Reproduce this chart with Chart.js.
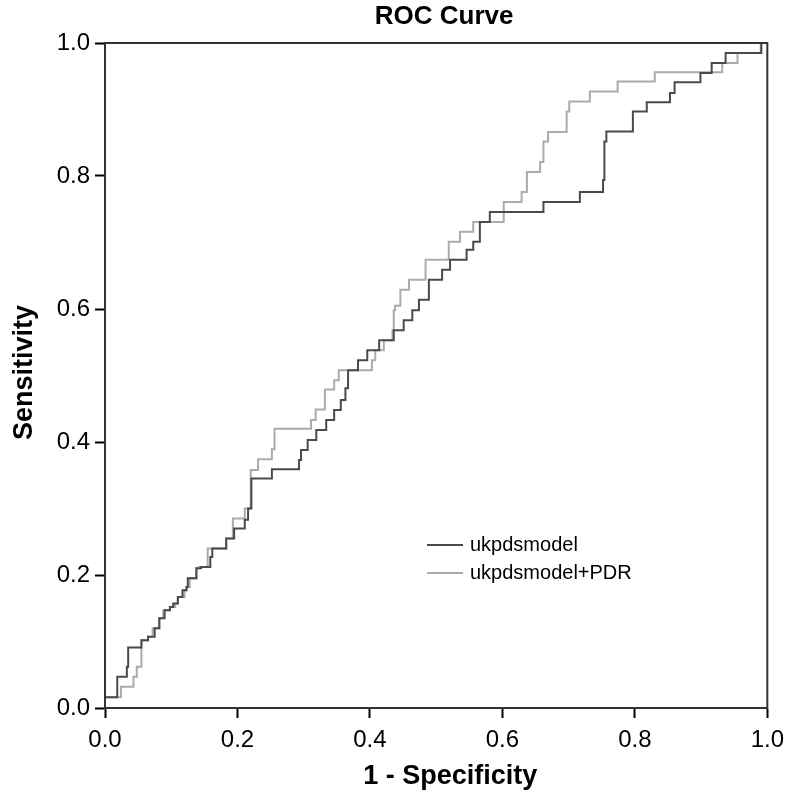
<!DOCTYPE html>
<html>
<head>
<meta charset="utf-8">
<script src="https://cdn.jsdelivr.net/npm/chart.js@4"></script>
<style>
  html, body { margin: 0; padding: 0; background: #fff; }
  #wrap { width: 792px; height: 800px; }
</style>
</head>
<body>
<div id="wrap"><canvas id="grafico" width="792" height="800"></canvas></div>
<script>
const tituloGrafico = "ROC Curve";
const tituloX = "1 - Specificity";
const tituloY = "Sensitivity";
const marcas = [0, 0.2, 0.4, 0.6, 0.8, 1.0];
const rotulosMarcas = ["0.0", "0.2", "0.4", "0.6", "0.8", "1.0"];

// ukpdsmodel
const escuroFpr = [0, 0.0185, 0.033, 0.035, 0.055, 0.065, 0.075, 0.082, 0.09, 0.098, 0.103, 0.110, 0.117, 0.123, 0.125, 0.138, 0.145, 0.159, 0.162, 0.183, 0.195, 0.211, 0.216, 0.221, 0.252, 0.293, 0.296, 0.306, 0.319, 0.334, 0.346, 0.356, 0.363, 0.367, 0.382, 0.396, 0.414, 0.436, 0.451, 0.464, 0.474, 0.489, 0.509, 0.521, 0.546, 0.556, 0.566, 0.581, 0.662, 0.717, 0.752, 0.754, 0.757, 0.797, 0.818, 0.853, 0.860, 0.899, 0.916, 0.937, 0.991, 1.0];
const escuroTpr = [0, 0.016, 0.047, 0.062, 0.091, 0.102, 0.107, 0.120, 0.135, 0.147, 0.152, 0.157, 0.167, 0.177, 0.182, 0.195, 0.210, 0.212, 0.227, 0.240, 0.255, 0.270, 0.283, 0.300, 0.345, 0.359, 0.373, 0.388, 0.403, 0.418, 0.433, 0.448, 0.463, 0.481, 0.508, 0.523, 0.538, 0.553, 0.568, 0.583, 0.598, 0.614, 0.644, 0.659, 0.674, 0.689, 0.701, 0.731, 0.746, 0.761, 0.776, 0.794, 0.852, 0.867, 0.897, 0.911, 0.925, 0.941, 0.955, 0.970, 0.985, 1.0];

// ukpdsmodel+PDR
const claroFpr = [0, 0.024, 0.043, 0.048, 0.055, 0.065, 0.072, 0.082, 0.088, 0.098, 0.106, 0.110, 0.120, 0.123, 0.128, 0.138, 0.142, 0.155, 0.183, 0.193, 0.211, 0.220, 0.231, 0.252, 0.256, 0.311, 0.318, 0.332, 0.346, 0.353, 0.403, 0.408, 0.421, 0.434, 0.436, 0.438, 0.446, 0.459, 0.484, 0.519, 0.536, 0.556, 0.602, 0.629, 0.637, 0.657, 0.662, 0.669, 0.697, 0.701, 0.732, 0.774, 0.830, 0.932, 0.955, 0.990, 1.0];
const claroTpr = [0, 0.016, 0.032, 0.047, 0.062, 0.102, 0.107, 0.120, 0.135, 0.147, 0.152, 0.157, 0.167, 0.177, 0.182, 0.195, 0.210, 0.212, 0.240, 0.255, 0.285, 0.300, 0.358, 0.374, 0.389, 0.420, 0.433, 0.449, 0.479, 0.493, 0.508, 0.523, 0.538, 0.553, 0.568, 0.598, 0.605, 0.629, 0.644, 0.674, 0.701, 0.716, 0.731, 0.761, 0.776, 0.806, 0.821, 0.852, 0.866, 0.897, 0.912, 0.927, 0.942, 0.956, 0.970, 0.985, 1.0];

const FONTE = "'Liberation Sans', Arial, sans-serif";

function montarPontos(xs, ys) {
  return xs.map((x, i) => ({ x: x, y: ys[i] }));
}

// moldura, titulos e legenda dentro da area do grafico
const extras = {
  id: "extras",
  afterDatasetsDraw(chart) {
    const { ctx, chartArea } = chart;
    const meio = (chartArea.left + chartArea.right) / 2;
    ctx.save();
    ctx.strokeStyle = "#333";
    ctx.lineWidth = 2;
    ctx.strokeRect(chartArea.left, chartArea.top, chartArea.right - chartArea.left, chartArea.bottom - chartArea.top);

    ctx.fillStyle = "#000";
    ctx.textAlign = "center";
    ctx.textBaseline = "middle";
    ctx.font = "bold 26px " + FONTE;
    ctx.fillText(tituloGrafico, meio + 8, 17);

    ctx.font = "bold 27px " + FONTE;
    ctx.fillText(tituloX, meio + 14, 777);

    ctx.save();
    ctx.translate(25, (chartArea.top + chartArea.bottom) / 2 - 3);
    ctx.rotate(-Math.PI / 2);
    ctx.fillText(tituloY, 0, 0);
    ctx.restore();

    const x0 = chartArea.left + 322;
    const y0 = chartArea.top + 502;
    ctx.font = "20px " + FONTE;
    ctx.textAlign = "left";
    chart.data.datasets.slice().reverse().forEach((ds, i) => {
      const y = y0 + i * 28;
      ctx.strokeStyle = ds.borderColor;
      ctx.lineWidth = 2;
      ctx.beginPath();
      ctx.moveTo(x0, y);
      ctx.lineTo(x0 + 36, y);
      ctx.stroke();
      ctx.fillStyle = "#000";
      ctx.fillText(ds.label, x0 + 43, y);
    });
    ctx.restore();
  },
};

function eixo(ehX) {
  return {
    type: "linear",
    min: 0,
    max: 1,
    afterBuildTicks: (s) => { s.ticks = marcas.map((v) => ({ value: v })); },
    afterFit: (s) => {
      if (ehX) s.height = 92;
      else s.width = 105;
    },
    ticks: {
      color: "#000",
      font: { family: FONTE, size: 24 },
      padding: ehX ? 8 : 5,
      callback: (v) => rotulosMarcas[marcas.indexOf(v)] ?? "",
    },
    grid: {
      drawOnChartArea: false,
      drawTicks: true,
      tickLength: 10,
      tickWidth: 2,
      tickColor: "#000",
    },
    border: { display: true, color: "#000", width: 2 },
    title: { display: false },
  };
}

new Chart(document.getElementById("grafico"), {
  type: "line",
  data: {
    datasets: [
      {
        label: "ukpdsmodel+PDR",
        data: montarPontos(claroFpr, claroTpr),
        borderColor: "#ababab",
        borderWidth: 2,
        stepped: "after",
        pointRadius: 0,
        fill: false,
        order: 2,
      },
      {
        label: "ukpdsmodel",
        data: montarPontos(escuroFpr, escuroTpr),
        borderColor: "#4a4a4a",
        borderWidth: 2,
        stepped: "after",
        pointRadius: 0,
        fill: false,
        order: 1,
      },
    ],
  },
  options: {
    responsive: false,
    animation: false,
    layout: { padding: { left: 0, right: 22, top: 43, bottom: 0 } },
    plugins: {
      legend: { display: false },
      title: { display: false },
      tooltip: { enabled: false },
    },
    scales: {
      x: eixo(true),
      y: eixo(false),
    },
  },
  plugins: [extras],
});
</script>
</body>
</html>
